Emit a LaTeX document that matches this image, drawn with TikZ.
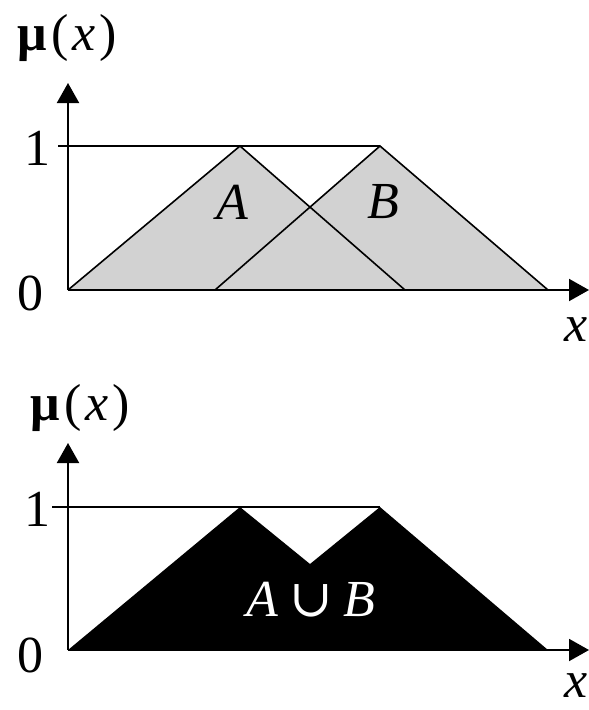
\documentclass[tikz,border=0pt]{standalone}
\usepackage{fontspec}
\setmainfont{Liberation Serif}
\newfontfamily\symfont{DejaVu Serif}
\usetikzlibrary{arrows.meta}
\begin{document}
\begin{tikzpicture}[x=1pt,y=-1pt,
  axis/.style={line width=2pt,-{Triangle[length=20pt,width=22pt]}},
  lbl/.style={font=\fontsize{52}{60}\selectfont,inner sep=0pt},
  tri/.style={line width=1.6pt,line join=miter},
  grey/.style={fill=gray!35}]
\useasboundingbox (0,0) rectangle (589,710);
% ---------- top chart ----------
\coordinate (o1) at (68,290);
\coordinate (ytop1) at (68,83);
\coordinate (xend1) at (589,290);
\coordinate (one1s) at (58,146);
\coordinate (pA) at (240,146);
\coordinate (pB) at (380,146);
\coordinate (eA) at (405,290);
\coordinate (sB) at (215,290);
\coordinate (eB) at (548,290);
\fill[grey] (o1) -- (pA) -- (eA) -- cycle;
\fill[grey] (sB) -- (pB) -- (eB) -- cycle;
\draw[line width=1.2pt] (one1s) -- (pB);
\draw[tri] (o1) -- (pA) -- (eA);
\draw[tri] (sB) -- (pB) -- (eB);
\draw[axis] (o1) -- (ytop1);
\draw[axis] (o1) -- (xend1);
\node[lbl] (mu1) at (67,38) {\textbf{μ}\kern5pt(\kern3pt\textit{x}\kern4pt)};
\node[lbl] (one1) at (37,148) {1};
\node[lbl] (zero1) at (30,293) {0};
\node[lbl] (x1) at (576,330) {\textit{x}};
\node[lbl] (la) at (232,202) {\textit{A}};
\node[lbl] (lb) at (383,202) {\textit{B}};
% ---------- bottom chart ----------
\coordinate (o2) at (68,650);
\coordinate (ytop2) at (68,443);
\coordinate (xend2) at (589,650);
\coordinate (one2s) at (52,507);
\coordinate (qA) at (240,507);
\coordinate (qM) at (310,564);
\coordinate (qB) at (380,507);
\coordinate (qE) at (548,650);
\fill[black] (o2) -- (qA) -- (qM) -- (qB) -- (qE) -- cycle;
\draw[line width=1.2pt] (one2s) -- (qB);
\draw[axis] (o2) -- (ytop2);
\draw[axis] (o2) -- (xend2);
\node[lbl] (mu2) at (80,408) {\textbf{μ}\kern5pt(\kern3pt\textit{x}\kern4pt)};
\node[lbl] (one2) at (37,509) {1};
\node[lbl] (zero2) at (30,655) {0};
\node[lbl] (x2) at (576,686) {\textit{x}};
\node[lbl,text=white] (lab) at (311,600) {\textit{A}\kern11pt{\symfont ∪}\kern11pt\textit{B}};
\end{tikzpicture}
\end{document}
